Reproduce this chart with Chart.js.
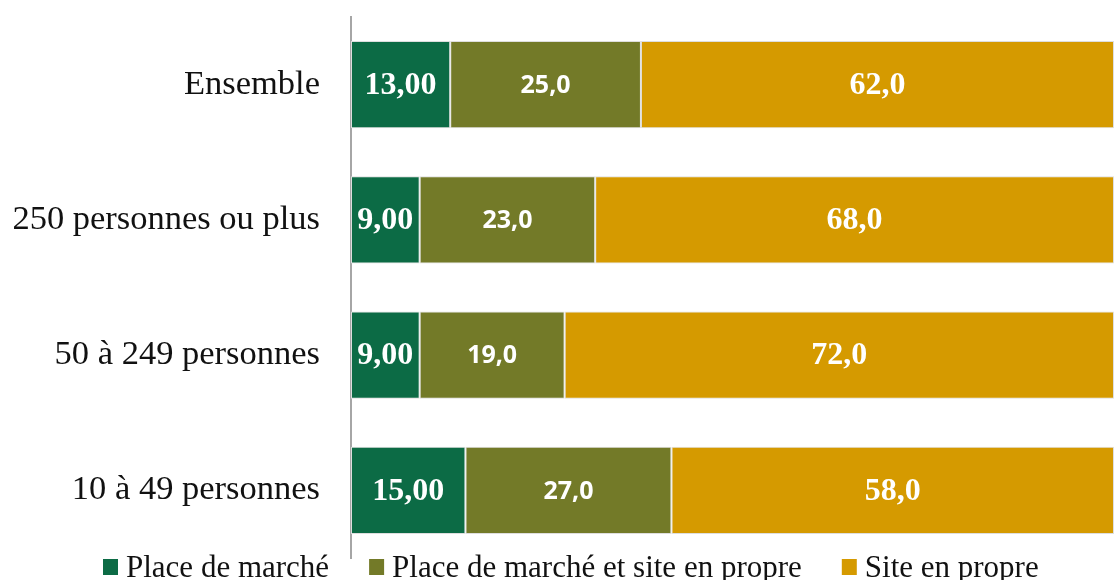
<!DOCTYPE html>
<html>
<head>
<meta charset="utf-8">
<script src="https://cdn.jsdelivr.net/npm/chart.js@4/dist/chart.umd.min.js"></script>
<style>
html,body{margin:0;padding:0;background:#fff;}
canvas{display:block;}
</style>
</head>
<body>
<canvas id="c" width="1114" height="580"></canvas>
<script>
const categories = ["Ensemble", "250 personnes ou plus", "50 à 249 personnes", "10 à 49 personnes"];
const seriesNames = ["Place de marché", "Place de marché et site en propre", "Site en propre"];
const placeDeMarche = [13, 9, 9, 15];
const placeEtSite = [25, 23, 19, 27];
const siteEnPropre = [62, 68, 72, 58];
const colors = ["#0c6b45", "#737a28", "#d59a00"];
const labelDecimals = [2, 1, 1];
const labelFonts = [
  "bold 32px 'Liberation Serif'",
  "bold 25px 'Open Sans'",
  "bold 32px 'Liberation Serif'"
];

const dataLabels = {
  id: 'dataLabels',
  afterDatasetsDraw(chart) {
    const ctx = chart.ctx;
    ctx.save();
    ctx.fillStyle = '#ffffff';
    ctx.textAlign = 'center';
    ctx.textBaseline = 'middle';
    chart.data.datasets.forEach((ds, di) => {
      const meta = chart.getDatasetMeta(di);
      ctx.font = labelFonts[di];
      meta.data.forEach((el, i) => {
        const txt = ds.data[i].toFixed(labelDecimals[di]).replace('.', ',');
        const x = (el.x + el.base) / 2;
        ctx.fillText(txt, x, el.y + 1);
      });
    });
    ctx.restore();
  }
};

const categoryLabels = {
  id: 'categoryLabels',
  afterDraw(chart) {
    const ctx = chart.ctx;
    const yScale = chart.scales.y;
    ctx.save();
    ctx.font = "34.5px 'Liberation Serif'";
    ctx.fillStyle = '#111111';
    ctx.textAlign = 'right';
    ctx.textBaseline = 'middle';
    chart.data.labels.forEach((lab, i) => {
      ctx.fillText(lab, chart.chartArea.left - 31, yScale.getPixelForValue(i));
    });
    ctx.restore();
  }
};

const bottomLegend = {
  id: 'bottomLegend',
  afterDraw(chart) {
    const ctx = chart.ctx;
    ctx.save();
    ctx.font = "31px 'Liberation Serif'";
    ctx.textBaseline = 'alphabetic';
    ctx.textAlign = 'left';
    let x = 103;
    chart.data.datasets.forEach((ds) => {
      ctx.fillStyle = ds.backgroundColor;
      ctx.fillRect(x, 559, 15, 16);
      ctx.fillStyle = '#111111';
      ctx.fillText(ds.label, x + 23, 577);
      x += 23 + ctx.measureText(ds.label).width + 40;
    });
    ctx.restore();
  }
};

new Chart(document.getElementById('c'), {
  type: 'bar',
  data: {
    labels: categories,
    datasets: [
      { label: seriesNames[0], data: placeDeMarche, backgroundColor: colors[0] },
      { label: seriesNames[1], data: placeEtSite, backgroundColor: colors[1] },
      { label: seriesNames[2], data: siteEnPropre, backgroundColor: colors[2] }
    ].map(d => Object.assign(d, {
      borderColor: '#dedede',
      borderWidth: 1,
      borderSkipped: false,
      categoryPercentage: 1,
      barPercentage: 0.645
    }))
  },
  options: {
    indexAxis: 'y',
    responsive: false,
    animation: false,
    layout: { padding: { top: 17, bottom: 22, left: 0, right: 0 } },
    plugins: {
      legend: { display: false },
      tooltip: { enabled: false }
    },
    scales: {
      x: {
        stacked: true,
        min: 0,
        max: 100,
        display: false
      },
      y: {
        stacked: true,
        afterFit(scale) { scale.width = 351; },
        grid: { display: false, drawTicks: false },
        border: { display: true, color: '#a6a6a6', width: 2 },
        ticks: { display: false }
      }
    }
  },
  plugins: [dataLabels, categoryLabels, bottomLegend]
});
</script>
</body>
</html>
